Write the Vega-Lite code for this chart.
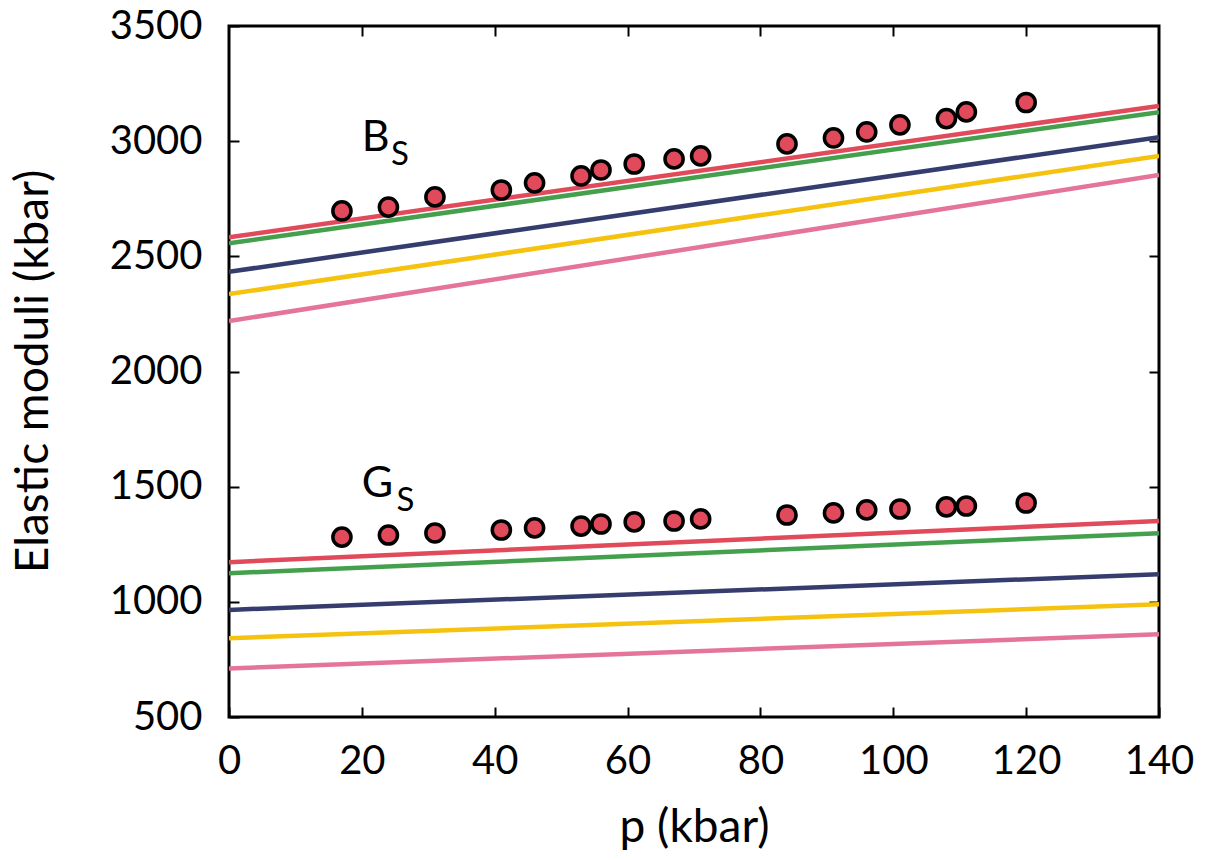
{
  "$schema": "https://vega.github.io/schema/vega-lite/v6.json",
  "width": 930,
  "height": 691,
  "autosize": {"type": "none"},
  "padding": {"left": 229, "top": 26, "right": 52, "bottom": 143},
  "background": "white",
  "config": {
    "view": {"stroke": "black", "strokeWidth": 3},
    "font": "Lato",
    "axis": {
      "grid": false,
      "domain": false,
      "tickColor": "black",
      "tickWidth": 2,
      "tickSize": 10,
      "offset": -10,
      "labelFont": "Lato",
      "labelFontSize": 40,
      "labelColor": "black",
      "titleFont": "Lato",
      "titleFontSize": 46,
      "titleFontWeight": "normal",
      "titleColor": "black"
    }
  },
  "datasets": {
    "lines": [
      {"group": "B", "model": "m1", "p": 0, "v": 2583}, {"group": "B", "model": "m1", "p": 140, "v": 3153},
      {"group": "B", "model": "m2", "p": 0, "v": 2557}, {"group": "B", "model": "m2", "p": 140, "v": 3126},
      {"group": "B", "model": "m3", "p": 0, "v": 2433}, {"group": "B", "model": "m3", "p": 140, "v": 3017},
      {"group": "B", "model": "m4", "p": 0, "v": 2336}, {"group": "B", "model": "m4", "p": 140, "v": 2936},
      {"group": "B", "model": "m5", "p": 0, "v": 2219}, {"group": "B", "model": "m5", "p": 140, "v": 2853},
      {"group": "G", "model": "m1", "p": 0, "v": 1172}, {"group": "G", "model": "m1", "p": 140, "v": 1351},
      {"group": "G", "model": "m2", "p": 0, "v": 1124}, {"group": "G", "model": "m2", "p": 140, "v": 1298},
      {"group": "G", "model": "m3", "p": 0, "v": 965}, {"group": "G", "model": "m3", "p": 140, "v": 1120},
      {"group": "G", "model": "m4", "p": 0, "v": 842}, {"group": "G", "model": "m4", "p": 140, "v": 989},
      {"group": "G", "model": "m5", "p": 0, "v": 711}, {"group": "G", "model": "m5", "p": 140, "v": 859}
    ],
    "points": [
      {"group": "B", "p": 17, "v": 2697}, {"group": "B", "p": 24, "v": 2714}, {"group": "B", "p": 31, "v": 2758},
      {"group": "B", "p": 41, "v": 2788}, {"group": "B", "p": 46, "v": 2819}, {"group": "B", "p": 53, "v": 2849},
      {"group": "B", "p": 56, "v": 2875}, {"group": "B", "p": 61, "v": 2901}, {"group": "B", "p": 67, "v": 2923},
      {"group": "B", "p": 71, "v": 2936}, {"group": "B", "p": 84, "v": 2988}, {"group": "B", "p": 91, "v": 3014},
      {"group": "B", "p": 96, "v": 3040}, {"group": "B", "p": 101, "v": 3071}, {"group": "B", "p": 108, "v": 3098},
      {"group": "B", "p": 111, "v": 3127}, {"group": "B", "p": 120, "v": 3168},
      {"group": "G", "p": 17, "v": 1281}, {"group": "G", "p": 24, "v": 1290}, {"group": "G", "p": 31, "v": 1299},
      {"group": "G", "p": 41, "v": 1312}, {"group": "G", "p": 46, "v": 1321}, {"group": "G", "p": 53, "v": 1329},
      {"group": "G", "p": 56, "v": 1338}, {"group": "G", "p": 61, "v": 1347}, {"group": "G", "p": 67, "v": 1351},
      {"group": "G", "p": 71, "v": 1360}, {"group": "G", "p": 84, "v": 1377}, {"group": "G", "p": 91, "v": 1386},
      {"group": "G", "p": 96, "v": 1399}, {"group": "G", "p": 101, "v": 1403}, {"group": "G", "p": 108, "v": 1412},
      {"group": "G", "p": 111, "v": 1416}, {"group": "G", "p": 120, "v": 1429}
    ],
    "labels": [
      {"text": "B", "p": 20.0, "v": 2958},
      {"text": "G", "p": 20.0, "v": 1455}
    ],
    "subs": [
      {"text": "S", "p": 24.4, "v": 2895},
      {"text": "S", "p": 25.2, "v": 1395}
    ]
  },
  "resolve": {"axis": {"x": "independent", "y": "independent"}},
  "layer": [
    {
      "data": {"name": "lines"},
      "mark": {"type": "line", "strokeWidth": 4.5, "clip": true},
      "encoding": {
        "x": {
          "field": "p", "type": "quantitative",
          "scale": {"domain": [0, 140], "nice": false, "zero": false},
          "axis": {"orient": "bottom", "title": "p (kbar)", "format": "d", "values": [0, 20, 40, 60, 80, 100, 120, 140], "labelPadding": 24, "labelFlush": false, "titleBaseline": "alphabetic", "titleY": 134}
        },
        "y": {
          "field": "v", "type": "quantitative",
          "scale": {"domain": [500, 3500], "nice": false, "zero": false},
          "axis": {"orient": "left", "title": "Elastic moduli (kbar)", "format": "d", "values": [500, 1000, 1500, 2000, 2500, 3000, 3500], "labelPadding": 27, "labelFlush": false, "titleBaseline": "middle", "titleX": -206, "titleY": 345}
        },
        "color": {
          "field": "model", "type": "nominal", "legend": null,
          "scale": {"domain": ["m1", "m2", "m3", "m4", "m5"], "range": ["#e04a5a", "#44a04c", "#353d6e", "#f5c30f", "#e47598"]}
        },
        "detail": {"field": "group"}
      }
    },
    {
      "data": {"name": "points"},
      "mark": {"type": "point", "shape": "circle", "filled": true, "fill": "#e04a5a", "stroke": "black", "strokeWidth": 3.5, "size": 330, "opacity": 1},
      "encoding": {
        "x": {"field": "p", "type": "quantitative", "axis": {"orient": "top", "labels": false, "title": null, "values": [20, 40, 60, 80, 100, 120]}},
        "y": {"field": "v", "type": "quantitative", "axis": {"orient": "right", "labels": false, "title": null, "values": [1000, 1500, 2000, 2500, 3000]}}
      }
    },
    {
      "data": {"name": "labels"},
      "mark": {"type": "text", "fontSize": 43, "font": "Lato", "align": "left", "baseline": "alphabetic", "color": "black"},
      "encoding": {
        "x": {"field": "p", "type": "quantitative", "axis": null},
        "y": {"field": "v", "type": "quantitative", "axis": null},
        "text": {"field": "text"}
      }
    },
    {
      "data": {"name": "subs"},
      "mark": {"type": "text", "fontSize": 33, "font": "Lato", "align": "left", "baseline": "alphabetic", "color": "black"},
      "encoding": {
        "x": {"field": "p", "type": "quantitative", "axis": null},
        "y": {"field": "v", "type": "quantitative", "axis": null},
        "text": {"field": "text"}
      }
    }
  ]
}
